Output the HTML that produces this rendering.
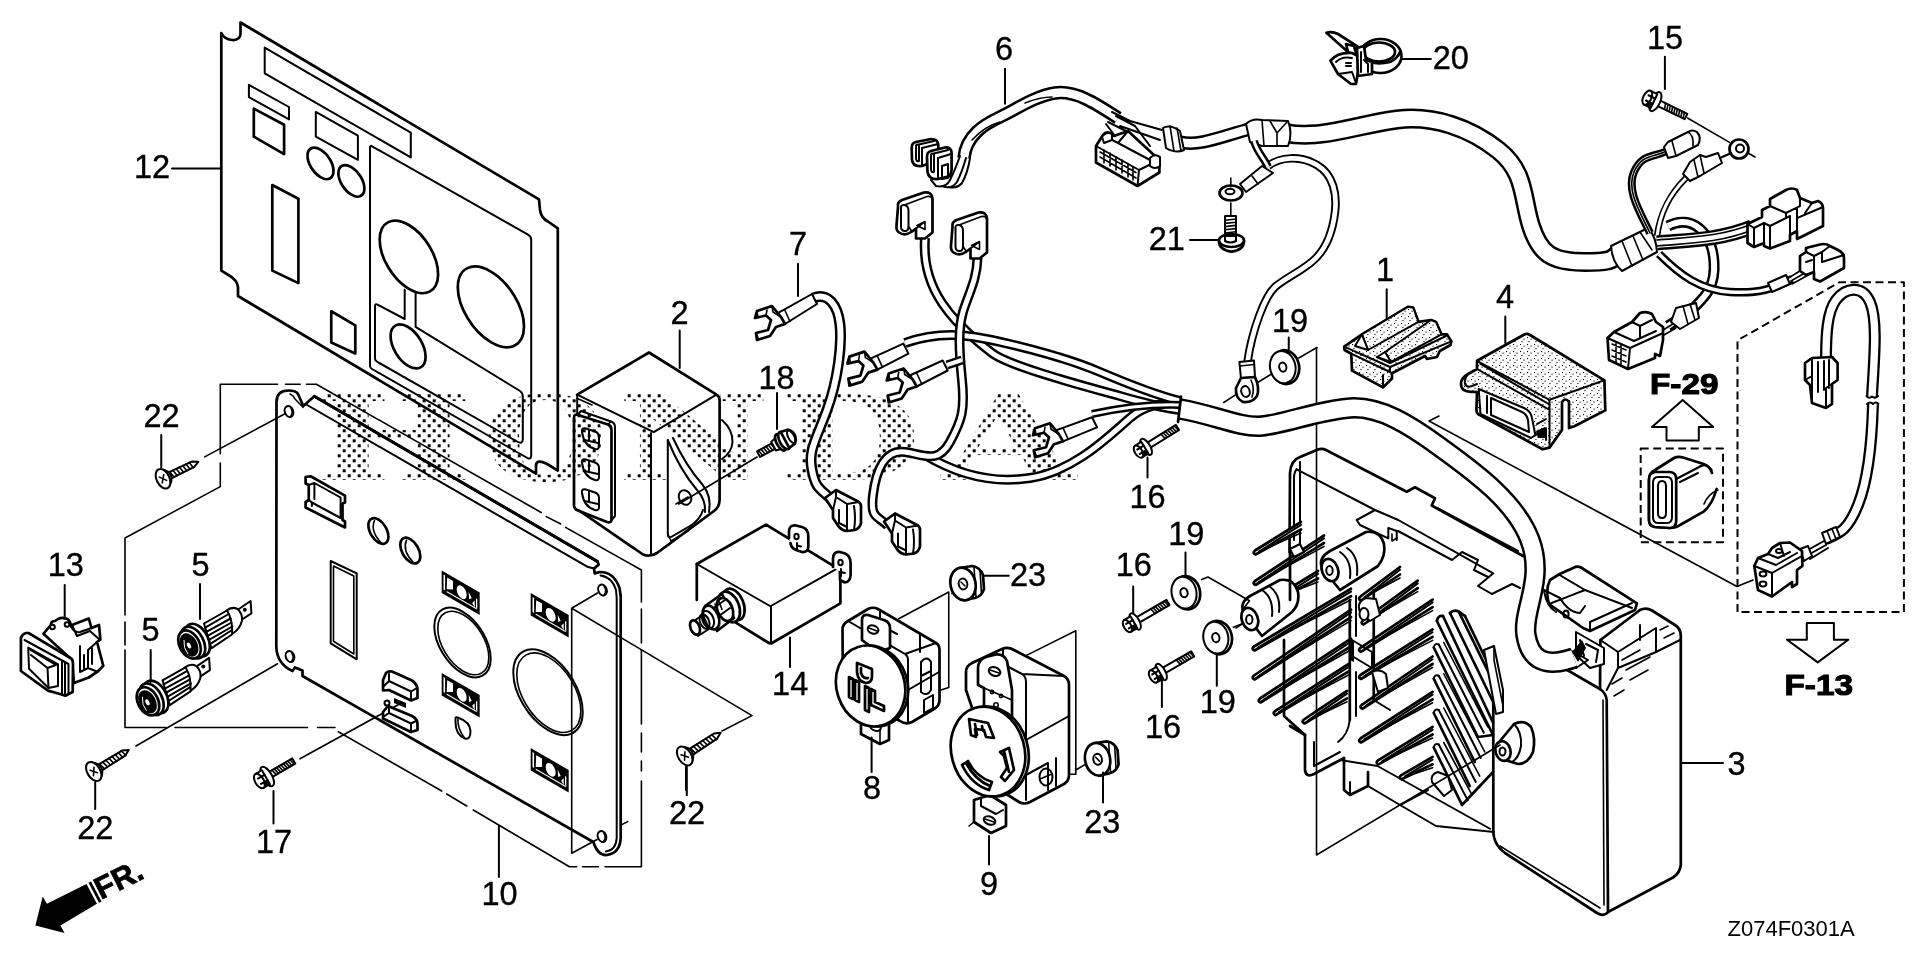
<!DOCTYPE html>
<html><head><meta charset="utf-8"><title>Z074F0301A</title>
<style>
html,body{margin:0;padding:0;background:#fff}
svg{display:block}
text{font-family:"Liberation Sans",sans-serif;fill:#000}
.l{font-size:32.5px;stroke:#000;stroke-width:0.35px}
.o{fill:none;stroke:#000;stroke-width:2.7;stroke-linejoin:round;stroke-linecap:round}
.m{fill:none;stroke:#000;stroke-width:2.0;stroke-linejoin:round;stroke-linecap:round}
.t{fill:none;stroke:#000;stroke-width:1.6;stroke-linejoin:round;stroke-linecap:round}
.w{fill:#fff}
.k{fill:#000}
</style></head><body>
<svg width="1920" height="960" viewBox="0 0 1920 960">
<rect width="1920" height="960" fill="#fff"/>
<defs><filter id="gs" x="0" y="0" width="1920" height="960" filterUnits="userSpaceOnUse" color-interpolation-filters="sRGB"><feColorMatrix type="saturate" values="0"/></filter></defs>
<g filter="url(#gs)">
<defs><pattern id="dots" x="317.7" y="394.3" width="10" height="10" patternUnits="userSpaceOnUse">
<rect x="0" y="0" width="3" height="3" fill="#000"/><rect x="5" y="5" width="3" height="3" fill="#000"/></pattern></defs>
<g id="wm" fill="url(#dots)" style="font-weight:bold;font-size:117px">
<text x="313" y="479.5" textLength="160" lengthAdjust="spacingAndGlyphs" style="fill:url(#dots);font-family:'DejaVu Serif','Liberation Serif',serif">H</text>
<text x="483" y="479.5" textLength="125" lengthAdjust="spacingAndGlyphs" style="fill:url(#dots);font-family:'DejaVu Serif','Liberation Serif',serif">O</text>
<text x="617" y="479.5" textLength="153" lengthAdjust="spacingAndGlyphs" style="fill:url(#dots);font-family:'DejaVu Serif','Liberation Serif',serif">N</text>
<text x="779" y="479.5" textLength="142" lengthAdjust="spacingAndGlyphs" style="fill:url(#dots);font-family:'DejaVu Serif','Liberation Serif',serif">D</text>
<text x="942" y="479.5" textLength="134" lengthAdjust="spacingAndGlyphs" style="fill:url(#dots);font-family:'DejaVu Serif','Liberation Serif',serif">A</text>
</g>
<g id="p12">
<path class="o" d="M221.3,33 Q224,39 232,40 Q240,40.5 240.5,34 L240.5,22.5 L539,199.4 L540,210 Q541,218 548,221.5 L557.8,228.4 L557.8,470.6 L548,464.5 Q537,458.5 536,465 L536,473.7 L238,296 L238,287 Q237,280 230,276 L221.3,270.6 Z"/>
<path class="m" d="M370,147.6 Q370,144.6 372.5,146.6 L528,234.7 Q531.2,236.5 531.2,240 L531.2,455 Q531.2,460.5 526.5,457.5 L372,369 Q370,367.8 370,366 Z"/>
<path class="m" d="M404.7,289.4 L404.7,319 L377.5,304.7 Q375,303.4 375,306 L375,358.5 Q375,360.5 377,361.7 L517,441.5 Q522.8,444.8 522.8,439 L522.8,396.5 Q522.8,392.8 520,391 L415.6,326.9 L415.6,292.5"/>
<ellipse class="o" transform="matrix(1 0.59 0 1 408.9 256.9)" rx="29.2" ry="31.9" vector-effect="non-scaling-stroke"/>
<ellipse class="o" transform="matrix(1 0.59 0 1 490.9 306.9)" rx="33.1" ry="35.3" vector-effect="non-scaling-stroke"/>
<ellipse class="o" transform="matrix(1 0.59 0 1 408.1 346.4)" rx="17.5" ry="19.4" vector-effect="non-scaling-stroke"/>
<ellipse class="o" transform="matrix(1 0.59 0 1 320.5 163.4)" rx="13" ry="13.8" vector-effect="non-scaling-stroke"/>
<ellipse class="o" transform="matrix(1 0.59 0 1 351.4 180.9)" rx="13" ry="13.8" vector-effect="non-scaling-stroke"/>
<path class="m" d="M264.7,47.6 L410.8,132.7 L410.8,157.4 L264.7,73.3 Z"/>
<path class="m" d="M248.9,84.8 L289,107 L289,119.4 L248.9,97.1 Z"/>
<path class="o" d="M253.8,108.6 L284.1,124.8 L284.1,154.1 L253.8,136.7 Z"/>
<path class="m" d="M315.8,111.9 L357.9,135.7 L357.9,159.8 L315.8,136.7 Z"/>
<path class="o" d="M272.3,185 L298.4,198.75 L298.4,283.1 L272.3,270.6 Z"/>
<path class="o" d="M331.25,311.25 L355.3,325.3 L355.3,353.4 L331.25,342.5 Z"/>

</g>

<g id="boxes" class="t">
<path d="M220.3,384.3 H277.5 M285.6,384.3 H300.2 M306.5,384.3 H316.4 L541.2,512.5 M546.3,516.6 L560.8,524 M565.6,527.4 L641.4,570 V602 M641.4,609 V643 M641.4,650 V724 M641.4,733 V752 M641.4,761 V771 M641.4,781 V866.7 H605 M598.5,866.7 H582.5 M576.7,866.7 H569.4 L473.3,810 M466.7,806 L446.7,794 M441.7,791 L338.3,731.7 M335,727.5 H317.5 M307.5,727.5 H175 M166,727.5 H125 V650 M125,645 V622 M125,615 V538 L220.3,486.6 V463 M220.3,453.7 V384.3"/>
<path d="M571.7,608.3 V853.3 L597,839.5 M571.7,608.3 L597.5,593 M571.7,608.3 L752,715.6 L722,731"/>
<path d="M204.7,456.9 L284.5,414 M277.5,663.75 L136,746 M300,758.75 L400,703.75"/>
</g>
<g id="p10">
<path class="o" d="M276.3,647 L276.5,402 Q276.5,390.5 288.5,390.5 Q296,390.5 298,394 L303.3,406 L314.3,396.3 L597.5,561.5 L598.7,564.6 L594,568.5 L594.7,573.4 L600,572 Q614,572 619.5,588 L620.7,596 L620.7,838 Q620,853 607,855 Q598,856 593.3,842 L302.5,676 L302.5,670.5 L295,667.5 L292.5,671 Q277,664 276.3,647 Z"/>
<path class="o" style="stroke-width:3" d="M314.3,396.3 L597.5,561.5"/>
<path class="t" d="M290,394 Q293,395 295,399 L303,407.3"/>
<path class="m" d="M305.4,404 L587.2,566.7 L594,568.5"/>
<path class="m" d="M600.5,575.5 Q612,577 616,590 L616.7,598 L616.7,838 Q616,850 606,851.5"/>
<ellipse class="m" cx="289" cy="411.5" rx="4.2" ry="5.6" transform="rotate(-20 289 411.5)"/>
<path class="t" d="M290.5,407.5 Q293.5,411.5 291,416.0"/>
<ellipse class="m" cx="290" cy="656.5" rx="4.2" ry="5.6" transform="rotate(-20 290 656.5)"/>
<path class="t" d="M291.5,652.5 Q294.5,656.5 292,661.0"/>
<ellipse class="m" cx="602.5" cy="590" rx="4.2" ry="5.6" transform="rotate(-20 602.5 590)"/>
<path class="t" d="M604.0,586 Q607.0,590 604.5,594.5"/>
<ellipse class="m" cx="602" cy="836.5" rx="4.2" ry="5.6" transform="rotate(-20 602 836.5)"/>
<path class="t" d="M603.5,832.5 Q606.5,836.5 604,841.0"/>
<path class="m" d="M330.7,561 L356.7,573.3 L356.7,659.3 L330.7,643.3 Z"/>
<path class="t" d="M333.5,566 L353.8,576 L353.8,654 L333.5,641.3 Z"/>
<g transform="matrix(1 0.58 0 1 441.7 570.4)"><rect class="k" x="0" y="0" width="38" height="22.5"/><rect class="w" x="1.8" y="3" width="1.6" height="15"/><path class="w" d="M5.5,4 L11.3,4 L11.3,12.5 L5,16 Z"/><ellipse class="w" cx="20" cy="10.2" rx="5" ry="6.2"/><path class="w" d="M27,6 L30,10.5 L27.5,13 Z M30.5,15 L33,11 L33,18 Z M34.3,8 L35.6,8 L35.6,18 L34.3,17 Z"/><rect class="w" x="5" y="17.6" width="30" height="1.3"/></g>
<g transform="matrix(1 0.58 0 1 530.7 593)"><rect class="k" x="0" y="0" width="38" height="22.5"/><rect class="w" x="1.8" y="3" width="1.6" height="15"/><path class="w" d="M5.5,4 L11.3,4 L11.3,12.5 L5,16 Z"/><ellipse class="w" cx="20" cy="10.2" rx="5" ry="6.2"/><path class="w" d="M27,6 L30,10.5 L27.5,13 Z M30.5,15 L33,11 L33,18 Z M34.3,8 L35.6,8 L35.6,18 L34.3,17 Z"/><rect class="w" x="5" y="17.6" width="30" height="1.3"/></g>
<g transform="matrix(1 0.58 0 1 441.7 673)"><rect class="k" x="0" y="0" width="38" height="22.5"/><rect class="w" x="1.8" y="3" width="1.6" height="15"/><path class="w" d="M5.5,4 L11.3,4 L11.3,12.5 L5,16 Z"/><ellipse class="w" cx="20" cy="10.2" rx="5" ry="6.2"/><path class="w" d="M27,6 L30,10.5 L27.5,13 Z M30.5,15 L33,11 L33,18 Z M34.3,8 L35.6,8 L35.6,18 L34.3,17 Z"/><rect class="w" x="5" y="17.6" width="30" height="1.3"/></g>
<g transform="matrix(1 0.58 0 1 530.7 748)"><rect class="k" x="0" y="0" width="38" height="22.5"/><rect class="w" x="1.8" y="3" width="1.6" height="15"/><path class="w" d="M5.5,4 L11.3,4 L11.3,12.5 L5,16 Z"/><ellipse class="w" cx="20" cy="10.2" rx="5" ry="6.2"/><path class="w" d="M27,6 L30,10.5 L27.5,13 Z M30.5,15 L33,11 L33,18 Z M34.3,8 L35.6,8 L35.6,18 L34.3,17 Z"/><rect class="w" x="5" y="17.6" width="30" height="1.3"/></g>
<ellipse class="m" transform="matrix(1 0.57 0 1 462.5 642.5)" rx="28.2" ry="30.9" vector-effect="non-scaling-stroke"/>
<ellipse class="t" transform="matrix(1 0.57 0 1 463.3 643)" rx="25.5" ry="28.2" vector-effect="non-scaling-stroke"/>
<ellipse class="m" transform="matrix(1 0.57 0 1 548 692.2)" rx="34.7" ry="38" vector-effect="non-scaling-stroke"/>
<ellipse class="t" transform="matrix(1 0.57 0 1 548.8 692.7)" rx="32" ry="35.3" vector-effect="non-scaling-stroke"/>
<ellipse class="o" transform="matrix(1 0.57 0 1 378.4 531)" rx="10" ry="11.5" vector-effect="non-scaling-stroke"/>
<ellipse class="o" transform="matrix(1 0.57 0 1 410.3 550.6)" rx="10" ry="11.5" vector-effect="non-scaling-stroke"/>
<path class="t" d="M374.5,520.5 Q370,531 381,542.5"/>
<path class="t" d="M406.5,540 Q402,550.5 413,562"/>
<path class="m" d="M455.5,719 Q455,716 459,718 Q470,722 470.5,731 Q470.5,740 465,738.5 Q455.5,735 455.5,722 Z"/>
<path class="t" d="M458,718.5 Q457,728 464.5,738"/>
</g>
<g id="p2">
<path class="o" d="M577.2,394.7 L649,352.5 L716.5,394.7 Q719.6,396.5 719.6,400 L719.6,500 Q719.4,507 714,511 L657,553 Q650,557.5 643,554.5 L579,510.5"/>
<path class="m" d="M577.2,394.7 L653.75,432.2 L716.5,394.7"/>
<path class="m" d="M651,433 L651,555"/>
<path class="t" d="M577.5,398.5 L592,405"/>
<path class="m" d="M577.2,394.7 L577.2,414"/>
<!-- connector panel -->
<path class="o" d="M574,418 Q574,413.5 578,415 L608,424.5 Q611.5,426 611.5,430 L611.5,519 Q611.5,523.5 607,522 L578,510.5 Q574,509 574,505 Z"/>
<path class="m" d="M578,414.5 L581,411 L611,421.5 Q615,423 615,427 L615,516 L611.5,520"/>
<path class="t" d="M608,424.5 L611,421.5"/>
<g class="m">
<path d="M582,432 Q581,427.5 586,428.5 L595,431.5 Q599,433 599,437 L599,446 Q599,450 595,449 Q584,446 582,432 Z"/>
<path d="M589,430 L589,441 L598,443 M589,441 L584.5,440"/>
<path d="M582,463 Q581,458.5 586,459.5 L595,462.5 Q599,464 599,468 L599,477 Q599,481 595,480 Q584,477 582,463 Z"/>
<path d="M589,461 L589,472 L598,474 M589,472 L584.5,471"/>
<path d="M582,493 Q581,488.5 586,489.5 L595,492.5 Q599,494 599,498 L599,507 Q599,511 595,510 Q584,507 582,493 Z"/>
<path d="M589,491 L589,502 L598,504 M589,502 L584.5,501"/>
</g>
<!-- right face bracket -->
<path class="m" d="M667.8,440 L667.8,534 Q668,539 672,536.5 L690,526 Q700,520 703,510"/>
<path class="m" d="M667.8,440 Q680,470 697,490 Q706,500 705,512"/>
<path class="m" d="M673,438 Q686,466 702,484 Q712,496 709,512"/>
<path class="t" d="M667.8,534 L671,541 L688,531 L690,526"/>
<ellipse class="m" cx="685" cy="497.5" rx="6" ry="7.5" transform="rotate(-25 685 497.5)"/>
<path class="t" d="M676,504 L688,497"/>
<!-- bulge -->
<path class="m" d="M722,420 Q733,430 732.5,442 Q732,452 722,459"/>
</g>

<g id="p14">
<path class="o" d="M696.8,564 L766,524.6 L837.5,568.3 Q840.4,570 840.4,574 L840.4,603.3 L772,643 Q770.4,644 768,642.5 L735.4,622.3"/>
<path class="m" d="M696.8,564 L770.4,606.25 L837.5,568.3 M771,606.25 V643"/>
<path class="o" d="M696.8,564 V600"/>
<g class="o">
<path style="fill:#fff" d="M789,538 L789,532 Q789,524.5 796,525.5 L802,527 Q808.3,529 808.3,536 L808.3,547 Q808,552.5 802,552 L796,550 Q791,548 790.5,543"/>
<ellipse class="m" cx="796.5" cy="536.5" rx="2.2" ry="2.8"/>
<path class="m" d="M797,543 L797,549 M797,545.5 L801,546.5"/>
<path style="fill:#fff" d="M833,567 L833,559 Q833,551 840,552 L845,553.5 Q850.6,556 850.6,563 L850.6,575 Q850,582 845,582.5 L840,580 L840,572"/>
<ellipse class="m" cx="840.5" cy="562.5" rx="2.2" ry="2.8"/>
<path class="m" d="M841,569 L841,576 M841,572 L845,573"/>
</g>
<g class="o" style="fill:#fff">
<ellipse cx="733.5" cy="604.5" rx="10" ry="16.5" transform="rotate(-22 733.5 604.5)"/>
<ellipse cx="729" cy="607" rx="10" ry="16" transform="rotate(-22 729 607)"/>
<path d="M705,606 L722,594 L734,618 L717,631 Z"/>
<ellipse cx="725" cy="609.5" rx="7.5" ry="12" transform="rotate(-22 725 609.5)"/>
<path class="m" d="M708,612 L725,600 M712,621 L730,608"/>
<ellipse cx="711" cy="617.5" rx="7.5" ry="12.5" transform="rotate(-22 711 617.5)"/>
<ellipse class="m" cx="708" cy="619.5" rx="5.5" ry="9" transform="rotate(-22 708 619.5)"/>
<path class="m" d="M692,622 L703,615 L709,629 L698,636 Z"/>
<ellipse class="m" cx="704.5" cy="621.5" rx="4.5" ry="7.5" transform="rotate(-22 704.5 621.5)"/>
<ellipse cx="695" cy="627.5" rx="4.5" ry="7.5" transform="rotate(-22 695 627.5)"/>
</g>
<path class="t" d="M715,604 L718,612 M719,601.5 L722,609.5"/>
<path class="m" d="M790,637.5 V667"/>
</g>
<g id="p8">
<!-- body -->
<path class="o" style="fill:#fff" d="M842.5,631 Q842,624 848,621 L868,609 Q873,606.5 878,609 L936,643 Q939.5,645 939.5,650 L939.5,700 Q939.5,706 934,709 L912,722 Q906,725 900,721 L843,690 Z"/>
<path class="m" d="M848,621 L905,654 Q908,656 908,660 L908,722 M905,654 L936,643 M880,610 L880,625 L897,634 M920,634 L920,652 M908,690 L939,672"/>
<!-- top tab -->
<path class="o" style="fill:#fff" d="M862,640 L862,620 Q862,614 868,615 L884,620 Q890,622 890,628 L890,648 L878,652 Z"/>
<ellipse class="m" cx="873" cy="629.5" rx="5.5" ry="4" transform="rotate(20 873 629.5)"/>
<path class="t" d="M869,628 L877,631"/>
<!-- side screws -->
<path class="m" d="M921,662 Q927,655 931,662 L931,690 Q927,697 921,692 Z M921,676 L931,671 M924,700 L933,695 L933,708 L924,713 Z"/>
<!-- bottom tab -->
<path class="o" style="fill:#fff" d="M861,718 L861,734 L880,744 L889,740 L889,722 L875,714 Z"/>
<ellipse class="m" cx="875.5" cy="727" rx="5.5" ry="3.6" transform="rotate(20 875.5 727)"/>
<path class="t" d="M880,744 L880,730"/>
<!-- face -->
<ellipse class="o" style="fill:#fff" cx="873.5" cy="686" rx="34" ry="41" transform="rotate(-18 873.5 686)"/>
<ellipse class="o" style="fill:#fff" cx="870.6" cy="686" rx="34" ry="41" transform="rotate(-18 870.6 686)"/>
<g class="o">
<path d="M857,663 L857,672 Q858,682 866,683 Q872,683 872,676 L872,669 Z M861,668 L861,673 Q863,679 868,678"/>
<path d="M849,677 L853,679 L853,699 L849,697 Z M855,680 L859,682 L859,702 L855,700 Z"/>
<path d="M865,686 L869,688 L869,712 L865,710 Z M871,689 L875,691 L875,702 L884,706 L884,711 L871,705 Z"/>
</g>
<path class="m" d="M871.6,737.5 V772"/>
<path class="t" d="M898.75,618.75 L948.75,592 V687.5 L939.4,690.6 M951.9,593.6 L957,590"/>
</g>
<g id="p9">
<!-- body -->
<path class="o" style="fill:#fff" d="M966,690 L966,672 Q966,666 972,663 L1002,649 Q1008,646.5 1014,650 L1064,676 Q1069,679 1069,685 L1069,775 Q1069,781 1064,784 L1030,802 Q1024,805 1019,802 L1000,790 Z"/>
<path class="m" d="M1003,649 L1003,664 L1022,674 Q1026,676.5 1026,682 L1026,800 M1022,674 L1064,676 M1026,740 L1069,716 M1026,775 L1048,763 L1048,790 M1056,758 L1056,786"/>
<!-- top tab -->
<path class="o" style="fill:#fff" d="M978,685 L978,668 Q978,660 986,657 L996,654.5 Q1004,654 1007,661 L1012,690 L1012,718 L984,706 L984,688 Z"/>
<ellipse class="m" cx="994.5" cy="671.5" rx="6" ry="4.2" transform="rotate(20 994.5 671.5)"/>
<path class="t" d="M990,670 L999,673 M984,688 L1012,700"/>
<circle class="t" cx="992" cy="692" r="1.6"/><circle class="t" cx="1001" cy="696" r="1.6"/><circle class="t" cx="996" cy="705" r="2.2"/>
<!-- side screw -->
<ellipse class="m" cx="1046" cy="777" rx="6.5" ry="8.5"/><path class="t" d="M1040,779 L1052,774"/>
<!-- bottom tab -->
<path class="o" style="fill:#fff" d="M974,800 L974,822 L991,833 L1006,826 L1006,805 L990,795 Z"/>
<path class="m" d="M981,798 L981,806 L996,814 L1003,810"/>
<ellipse class="m" cx="989.5" cy="820.5" rx="6" ry="4" transform="rotate(20 989.5 820.5)"/>
<path class="t" d="M985,819 L994,822 M974,822 L969,826"/>
<!-- face -->
<ellipse class="o" style="fill:#fff" cx="991.5" cy="751.5" rx="36.5" ry="45.5" transform="rotate(-16 991.5 751.5)"/>
<ellipse class="o" style="fill:#fff" cx="988" cy="751.5" rx="36.5" ry="45.5" transform="rotate(-16 988 751.5)"/>
<g class="o">
<path d="M969,719 L988,723 L994,738 L986,737 L984,730 L975,729 L976,737 L971,735 Z M975,724 L977,735 M982,726 L983,731"/>
<path d="M1000,752 L1009,748 L1014,770 L1005,781 L1001,777 L1007,768 L1004,756 Z M1004,751 L1009,772"/>
<path d="M962,765 L968,761 Q976,777 992,782 L989,790 Q972,785 962,765 Z M966,763 Q975,780 990,786"/>
</g>
<path class="m" d="M989,836 V864.6"/>
<path class="t" d="M1026,655.6 L1075.8,630.8 V774.3 L1068.75,774.3 M1075.8,770 L1086.5,763.6"/>
</g>

<g id="p3">
<path class="o" d="M1289.5,552 L1290,473 Q1291,460 1300,457 L1318,449.5 Q1322,448 1326,450 L1406.7,491.7 L1415,487.3 L1435,498.3 L1431.7,505.5 L1523,556" />
<path class="m" d="M1296.7,469.3 L1375,510 L1356.7,520 L1360,525 L1388.3,538.3 L1388.3,528 L1396.7,531 L1396.7,540 M1375,510 L1398.3,520 L1493.3,573.3 L1478,586 L1492,594 L1512,584 L1520,588" />
<path class="m" d="M1300,462 L1300,548 M1296.7,469.3 Q1294,472 1294,478 L1294,540" />
<path class="t" d="M1392,534 L1392,541 L1397,538" />
<path class="m" d="M1437,508 L1518,551 M1398,531 L1452,560 L1462,552 L1478,560 L1474,570 L1488,577" />
<path class="o" style="fill:#fff" d="M1558.75,574.5 L1575.4,566.9 Q1578,566 1581,567.5 L1636.9,603.3 L1635,610 L1590,631 L1583,628 L1549,604 Q1545,590 1550,580 Z"/>
<path class="m" d="M1558.75,574.5 L1585,590 L1632,608 M1585,590 L1549,604 M1544,590 L1560,598 Q1568,612 1580,613 L1585,606 M1544,590 Q1546,606 1556,612" />
<ellipse class="m" cx="1566" cy="614" rx="2.6" ry="3.6"/>
<path class="m" d="M1590,631 L1590,622 L1632,603" />
<path class="o" style="fill:#fff" d="M1600.4,640 L1640,610 Q1646,607 1652,610.5 L1675,625 Q1680.8,628.5 1680.8,636 L1680.8,865 Q1680,873 1673,877.5 L1608,912 L1606.7,700 Q1606,693 1600,689 Z"/>
<path class="m" d="M1600.4,640 L1618,652 L1618,668 L1606.7,690 M1618,652 L1656,628 L1656,652 L1618,668 M1640,625 L1640,640 M1656,652 L1680,640" />
<path class="t" d="M1622,660 L1640,650 M1626,670 L1650,657 M1630,680 L1648,670 M1660,630 L1668,626 M1664,638 L1674,633 M1612,684 L1622,678 M1614,696 L1624,690" />
<path class="m" style="fill:#fff" d="M1576,632 L1590,640 L1604,648 L1604,664 L1590,668 L1576,655 Z"/>
<path class="m" d="M1580,640 L1584,656 M1586,644 L1598,650 L1596,662 M1570,650 L1588,660 L1576,668 Z" />
<path class="k" style="fill:#000" d="M1572,652 L1582,640 L1586,648 L1578,662 Z"/>
<path class="o" d="M1493.3,668 L1493.3,832 Q1494,845 1505,853 L1597,913 Q1604,917 1608,912" />
<path class="o" d="M1567,670 L1600,689" />
<path class="t" d="M1603,700 L1604,905 M1500,846 L1600,908" />
<path class="o" style="fill:#fff" d="M1500,741 L1514,724 Q1524,719 1531,727 Q1536,738 1533,752 Q1528,764 1518,764 L1505,760 Z"/>
<path class="m" d="M1514,724 Q1522,732 1521,746 Q1519,758 1512,762" />
<ellipse class="o" style="fill:#fff" cx="1503" cy="751" rx="7.5" ry="10" transform="rotate(-15 1503 751)"/><ellipse class="m" cx="1502.5" cy="751.5" rx="3" ry="4"/>
<path class="o" d="M1436.9,621 L1493,735" />
<path class="o" d="M1443,616 L1493,722.5" />
<path class="o" d="M1450,613 L1498,712" />
<path class="o" d="M1458.75,611.6 L1502,700" />
<path class="o" d="M1465,616 L1502.5,694" />
<path class="o" d="M1436.9,621 Q1438,615 1443,616 M1450,613 Q1454,609 1458.75,611.6 L1465,616" />
<path class="o" d="M1433.75,647.5 L1477.75,736.8199999999999" />
<path class="m" d="M1438.75,644.5 L1483.75,732.8199999999999" />
<path class="t" d="M1443.75,642.5 L1487.75,726.8199999999999" />
<path class="m" d="M1433.75,647.5 Q1434.75,642.5 1438.75,644.5" />
<path class="o" d="M1433.75,678.75 L1474.75,761.98" />
<path class="m" d="M1438.75,675.75 L1480.75,757.98" />
<path class="t" d="M1443.75,673.75 L1484.75,751.98" />
<path class="m" d="M1433.75,678.75 Q1434.75,673.75 1438.75,675.75" />
<path class="o" d="M1433.75,713 L1469.75,786.08" />
<path class="m" d="M1438.75,710 L1475.75,782.08" />
<path class="t" d="M1443.75,708 L1479.75,776.08" />
<path class="m" d="M1433.75,713 Q1434.75,708 1438.75,710" />
<path class="o" d="M1433.75,747.5 L1461.75,804.34" />
<path class="m" d="M1438.75,744.5 L1467.75,800.34" />
<path class="t" d="M1443.75,742.5 L1471.75,794.34" />
<path class="m" d="M1433.75,747.5 Q1434.75,742.5 1438.75,744.5" />
<path class="o" d="M1462,805 L1493,772 M1478,737 L1493,735" />
<path class="m" d="M1493,735 L1493,772 M1502,700 L1502.5,712" />
<path class="m" style="fill:#fff" d="M1484,650 L1494,646 L1503,690 L1503,712 L1496,714 Z"/>
<path class="t" d="M1494,646 L1494,660 L1503,706" />
<path class="m" style="fill:#fff" d="M1432,782 Q1430,774 1438,772 L1448,776 L1452,790 L1444,796 Z"/>
<path class="m" d="M1377.5,766 L1490,828.75 M1340,760 L1377.5,766" />
<path class="o" style="fill:#fff" d="M1400,567 L1360.4,596.5 Q1357.4,599 1360.9,600.5 L1400,574.5"/>
<path class="m" d="M1364.4,597.5 L1400,569.8" />
<path class="t" d="M1371.5800000000002,593.2 L1400,578.0" />
<path class="o" style="fill:#fff" d="M1417.7,580.6 L1363,620.5 Q1360,623 1363.5,624.5 L1417.7,588.1"/>
<path class="m" d="M1367,621.5 L1417.7,583.4" />
<path class="t" d="M1378.71,614.08 L1417.7,591.6" />
<path class="o" style="fill:#fff" d="M1432.6,599.6 L1360.4,647.9 Q1357.4,650.4 1360.9,651.9 L1432.6,607.1"/>
<path class="m" d="M1364.4,648.9 L1432.6,602.4" />
<path class="t" d="M1381.3600000000001,638.96 L1432.6,610.6" />
<path class="o" style="fill:#fff" d="M1432.6,629.4 L1360.4,675.0 Q1357.4,677.5 1360.9,679.0 L1432.6,636.9"/>
<path class="m" d="M1364.4,676.0 L1432.6,632.1999999999999" />
<path class="t" d="M1381.3600000000001,666.87 L1432.6,640.4" />
<path class="o" style="fill:#fff" d="M1432.6,656.5 L1361.8,704.8 Q1358.8,707.3 1362.3,708.8 L1432.6,664.0"/>
<path class="m" d="M1365.8,705.8 L1432.6,659.3" />
<path class="t" d="M1382.34,695.86 L1432.6,667.5" />
<path class="o" style="fill:#fff" d="M1432.6,691.8 L1360.4,738.5 Q1357.4,741 1360.9,742.5 L1432.6,699.3"/>
<path class="m" d="M1364.4,739.5 L1432.6,694.5999999999999" />
<path class="t" d="M1381.3600000000001,730.0400000000001 L1432.6,702.8" />
<path class="o" style="fill:#fff" d="M1432.6,727 L1378,760.4 Q1375,762.9 1378.5,764.4 L1432.6,734.5"/>
<path class="m" d="M1382,761.4 L1432.6,729.8" />
<path class="t" d="M1393.68,755.9300000000001 L1432.6,738.0" />
<path class="o" style="fill:#fff" d="M1432.6,756.8 L1401,775.3 Q1398,777.8 1401.5,779.3 L1432.6,764.3"/>
<path class="m" d="M1405,776.3 L1432.6,759.5999999999999" />
<path class="t" d="M1409.78,775.3 L1432.6,767.8" />
<path class="o" style="fill:#fff" d="M1301,522 L1255,550.5 Q1252,553 1255.5,554.5 L1301,529.5"/>
<path class="m" d="M1259,551.5 L1301,524.8" />
<path class="t" d="M1268.1,547.5 L1301,533.0" />
<path class="o" style="fill:#fff" d="M1324,535.5 L1255,581.0 Q1252,583.5 1255.5,585.0 L1324,543.0"/>
<path class="m" d="M1259,582.0 L1324,538.3" />
<path class="t" d="M1275.0,572.9000000000001 L1324,546.5" />
<path class="o" style="fill:#fff" d="M1318,571 L1281,593.5 Q1278,596 1281.5,597.5 L1318,578.5"/>
<path class="m" d="M1285,594.5 L1318,573.8" />
<path class="t" d="M1291.4,592.3000000000001 L1318,582.0" />
<path class="o" style="fill:#fff" d="M1351,588.75 L1254,646.5 Q1251,649 1254.5,650.5 L1351,596.25"/>
<path class="m" d="M1258,647.5 L1351,591.55" />
<path class="t" d="M1282.4,634.725 L1351,599.75" />
<path class="o" style="fill:#fff" d="M1351,609.6 L1254,675.5 Q1251,678 1254.5,679.5 L1351,617.1"/>
<path class="m" d="M1258,676.5 L1351,612.4" />
<path class="t" d="M1282.4,661.2800000000001 L1351,620.6" />
<path class="o" style="fill:#fff" d="M1351,638.75 L1260,698.5 Q1257,701 1260.5,702.5 L1351,646.25"/>
<path class="m" d="M1264,699.5 L1351,641.55" />
<path class="t" d="M1286.6,686.125 L1351,649.75" />
<path class="o" style="fill:#fff" d="M1349,663.75 L1275,711.2 Q1272,713.7 1275.5,715.2 L1349,671.25"/>
<path class="m" d="M1279,712.2 L1349,666.55" />
<path class="t" d="M1296.5,702.5150000000001 L1349,674.75" />
<path class="o" style="fill:#fff" d="M1347,690.8 L1304,719.5 Q1301,722 1304.5,723.5 L1347,698.3"/>
<path class="m" d="M1308,720.5 L1347,693.5999999999999" />
<path class="t" d="M1316.2,716.44 L1347,701.8" />
<path class="o" d="M1349.8,600 L1349.8,720 M1373.75,590 L1373.75,700" />
<path class="m" d="M1352,640 L1372,652 L1372,668 L1352,656 Z M1349.8,720 Q1348,735 1338,742 M1373.75,700 L1390,710 M1356,596 L1356,636 M1356,672 L1356,716" />
<path class="k" style="fill:#000" d="M1350,640 L1354,642 L1354,662 L1350,660 Z"/>
<path class="o" style="fill:#fff" d="M1322,568 Q1318,558 1330,551 L1366,532 Q1380,530 1384,544 Q1386,556 1378,566 L1340,590 Z"/>
<path class="m" d="M1340,552 Q1352,560 1350,578 M1347,548 Q1359,556 1357,575" />
<ellipse class="o" style="fill:#fff" cx="1330" cy="570" rx="8" ry="11.5" transform="rotate(-20 1330 570)"/><ellipse class="m" cx="1329.5" cy="570.5" rx="3.2" ry="4.4"/>
<path class="o" style="fill:#fff" d="M1243,611 Q1240,602 1250,596 L1280,580 Q1294,578 1298,592 Q1300,604 1292,612 L1262,636 Z"/>
<path class="m" d="M1262,590 Q1274,598 1272,616 M1269,586 Q1281,594 1279,612" />
<ellipse class="o" style="fill:#fff" cx="1249.8" cy="619" rx="8" ry="11.5" transform="rotate(-20 1249.8 619)"/><ellipse class="m" cx="1249.3" cy="619.5" rx="3.2" ry="4.4"/>
<path class="m" style="fill:#fff" d="M1360,612 Q1356,602 1366,598 L1376,599 L1380,615 L1370,621 Z"/>
<ellipse class="m" style="fill:#fff" cx="1364" cy="614" rx="4.5" ry="6"/>
<path class="m" style="fill:#fff" d="M1372,672 Q1380,668 1386,674 L1388,688 L1378,692 Z"/>
<path class="m" style="fill:#fff" d="M1290,549 L1300,544 L1304,552 L1294,557 Z"/>
<path class="o" d="M1305,735 L1305,770 Q1306,778 1314,774 L1344,758 M1305,735 L1290,726 M1344,758 L1344,790 L1350,795 L1368,786 L1368,772" />
<path class="m" d="M1314,742 L1314,766 L1340,752 M1350,795 L1350,782 M1368,786 L1400,805 L1428,790 M1400,805 L1436,826 L1494,832" />
<path class="o" d="M1290,552 L1290,600 M1284,640 L1284,716 L1305,735" />
<path class="t" d="M1316.5,347.5 V855 L1500,745 M1249.4,600.7 L1244,608 M1242.3,623.75 L1236,628" />
<path class="m" d="M1681.7,763 H1723" />
</g>
<g id="wires">
<path d="M1268,166 C1280,157 1300,155 1317,165 S1337,195 1335,212 S1328,245 1317,257 S1285,278 1275,287 S1252,330 1247.5,362" fill="none" stroke="#000" stroke-width="8.5" stroke-linecap="butt" stroke-linejoin="round"/>
<path d="M1268,166 C1280,157 1300,155 1317,165 S1337,195 1335,212 S1328,245 1317,257 S1285,278 1275,287 S1252,330 1247.5,362" fill="none" stroke="#fff" stroke-width="4.7" stroke-linecap="butt" stroke-linejoin="round"/>
<path d="M1180,409 C1215,415 1240,428 1262,426 S1320,410 1350,408 S1410,425 1440,447 S1515,500 1530,540 S1522,610 1526,635 S1545,668 1574,658" fill="none" stroke="#000" stroke-width="21.5" stroke-linecap="butt" stroke-linejoin="round"/>
<path d="M1180,409 C1215,415 1240,428 1262,426 S1320,410 1350,408 S1410,425 1440,447 S1515,500 1530,540 S1522,610 1526,635 S1545,668 1574,658" fill="none" stroke="#fff" stroke-width="16.5" stroke-linecap="butt" stroke-linejoin="round"/>
<path d="M925,455 C950,470 985,485 1030,478 S1110,435 1130,418 S1165,405 1180,404" fill="none" stroke="#000" stroke-width="10" stroke-linecap="butt" stroke-linejoin="round"/>
<path d="M925,455 C950,470 985,485 1030,478 S1110,435 1130,418 S1165,405 1180,404" fill="none" stroke="#fff" stroke-width="5.0" stroke-linecap="butt" stroke-linejoin="round"/>
<path d="M925,238 C923,265 930,285 942,303 S975,340 992,353 S1080,385 1120,396 S1165,408 1180,410" fill="none" stroke="#000" stroke-width="10" stroke-linecap="butt" stroke-linejoin="round"/>
<path d="M925,238 C923,265 930,285 942,303 S975,340 992,353 S1080,385 1120,396 S1165,408 1180,410" fill="none" stroke="#fff" stroke-width="5.0" stroke-linecap="butt" stroke-linejoin="round"/>
<path d="M905,343 C925,336 950,333 975,337 S1060,355 1100,372 S1160,396 1180,401" fill="none" stroke="#000" stroke-width="10" stroke-linecap="butt" stroke-linejoin="round"/>
<path d="M905,343 C925,336 950,333 975,337 S1060,355 1100,372 S1160,396 1180,401" fill="none" stroke="#fff" stroke-width="5.0" stroke-linecap="butt" stroke-linejoin="round"/>
<path d="M1092,414 C1120,408 1150,404 1180,405" fill="none" stroke="#000" stroke-width="8" stroke-linecap="butt" stroke-linejoin="round"/>
<path d="M1092,414 C1120,408 1150,404 1180,405" fill="none" stroke="#fff" stroke-width="3.0" stroke-linecap="butt" stroke-linejoin="round"/>
<path d="M977.5,258 C977,280 968,295 963,312 S959,350 962,380 S962,420 950,442 S925,455 905,452 S876,470 873,495 S878,515 888,526" fill="none" stroke="#000" stroke-width="10" stroke-linecap="butt" stroke-linejoin="round"/>
<path d="M977.5,258 C977,280 968,295 963,312 S959,350 962,380 S962,420 950,442 S925,455 905,452 S876,470 873,495 S878,515 888,526" fill="none" stroke="#fff" stroke-width="5.0" stroke-linecap="butt" stroke-linejoin="round"/>
<path d="M947,365 L962,360" fill="none" stroke="#000" stroke-width="9" stroke-linecap="butt" stroke-linejoin="round"/>
<path d="M947,365 L962,360" fill="none" stroke="#fff" stroke-width="4.0" stroke-linecap="butt" stroke-linejoin="round"/>
<path d="M813,298 C828,292 838,305 840,325 S838,380 827,410 S808,450 812,470 S820,488 832,500" fill="none" stroke="#000" stroke-width="11" stroke-linecap="butt" stroke-linejoin="round"/>
<path d="M813,298 C828,292 838,305 840,325 S838,380 827,410 S808,450 812,470 S820,488 832,500" fill="none" stroke="#fff" stroke-width="6.0" stroke-linecap="butt" stroke-linejoin="round"/>
<path class="o" d="M1181,396.5 L1178,422" />
<path d="M964,158 C966,135 985,124 1000,117 S1035,96 1055,93 S1095,103 1118,118" fill="none" stroke="#000" stroke-width="13.5" stroke-linecap="butt" stroke-linejoin="round"/>
<path d="M964,158 C966,135 985,124 1000,117 S1035,96 1055,93 S1095,103 1118,118" fill="none" stroke="#fff" stroke-width="8.5" stroke-linecap="butt" stroke-linejoin="round"/>
<path class="t" d="M972,140 Q985,126 1000,122 M1025,103 Q1040,97 1052,97" />
<path class="m" d="M1112,112 L1130,121 L1162,130 M1108,122 L1126,131 L1140,148 M1116,116 L1135,126 L1150,146 M1120,126 L1160,140 M1106,124 L1118,140 L1128,150" />
<path d="M1180,142 C1200,147 1225,135 1250,129" fill="none" stroke="#000" stroke-width="13.5" stroke-linecap="butt" stroke-linejoin="round"/>
<path d="M1180,142 C1200,147 1225,135 1250,129" fill="none" stroke="#fff" stroke-width="8.5" stroke-linecap="butt" stroke-linejoin="round"/>
<path class="m" style="fill:#fff" d="M1163,128 Q1170,124 1180,131 L1184,150 Q1176,154 1166,148 Z"/>
<path class="t" d="M1170,126 L1174,151 M1177,128 L1181,151" />
<path d="M1286,133 C1320,140 1360,124 1397,119.5 S1470,128 1498,150 S1522,198 1531,226 S1552,262 1585,262 S1610,258 1619,254" fill="none" stroke="#000" stroke-width="20" stroke-linecap="butt" stroke-linejoin="round"/>
<path d="M1286,133 C1320,140 1360,124 1397,119.5 S1470,128 1498,150 S1522,198 1531,226 S1552,262 1585,262 S1610,258 1619,254" fill="none" stroke="#fff" stroke-width="15.0" stroke-linecap="butt" stroke-linejoin="round"/>
<path class="m" style="fill:#fff" d="M1246,124 Q1252,118 1262,120 L1288,121 Q1293,133 1288,146 L1262,146 L1250,142 Z"/>
<path class="t" d="M1262,120 L1264,146 M1270,121 L1277,133 L1287,122 M1277,133 L1277,146" />
<path d="M1254,141 C1257,152 1264,158 1268,167" fill="none" stroke="#000" stroke-width="8" stroke-linecap="butt" stroke-linejoin="round"/>
<path d="M1254,141 C1257,152 1264,158 1268,167" fill="none" stroke="#fff" stroke-width="3.0" stroke-linecap="butt" stroke-linejoin="round"/>
<path class="m" style="fill:#fff" d="M1262,166 L1273,173 L1246,192 L1240,184 Z"/>
<path class="t" d="M1252,176 L1258,184" />
<ellipse class="o" style="fill:#fff" cx="1231" cy="193" rx="11.5" ry="7.5"/>
<ellipse class="m" cx="1230" cy="191.5" rx="4.5" ry="2.8"/>
<path class="m" style="fill:#fff" d="M1611,246 L1648,228 Q1656,236 1657,252 L1622,271 Q1612,262 1611,246 Z"/>
<path class="t" d="M1622,241 L1632,266 M1633,236 L1643,260 M1640,232 L1652,250" />
<path d="M1650,233 C1640,212 1626,190 1634,172 S1652,158 1667,151" fill="none" stroke="#000" stroke-width="8" stroke-linecap="butt" stroke-linejoin="round"/>
<path d="M1650,233 C1640,212 1626,190 1634,172 S1652,158 1667,151" fill="none" stroke="#fff" stroke-width="3.0" stroke-linecap="butt" stroke-linejoin="round"/>
<path class="t" d="M1650,233 C1640,212 1626,190 1634,172 S1652,158 1667,151" />
<path class="m" style="fill:#fff" d="M1664,147 L1668,158 L1676,156 L1698,145 Q1702,138 1697,132 Q1692,129 1688,132 L1668,142 Z"/>
<path class="t" d="M1676,156 L1672,141 M1688,132 Q1694,135 1693,146" />
<path d="M1657,236 C1660,214 1668,196 1686,178" fill="none" stroke="#000" stroke-width="6.5" stroke-linecap="butt" stroke-linejoin="round"/>
<path d="M1657,236 C1660,214 1668,196 1686,178" fill="none" stroke="#fff" stroke-width="3.1" stroke-linecap="butt" stroke-linejoin="round"/>
<path class="m" style="fill:#fff" d="M1683,174 L1690,181 L1700,176 L1722,163 L1718,153 L1706,157 L1700,155 L1690,162 Z"/>
<path class="t" d="M1700,155 L1704,173 M1694,160 L1698,177" />
<circle class="o" style="fill:#fff" cx="1739" cy="149" r="9.5"/><circle class="m" cx="1740" cy="148.5" r="4"/>
<path class="m" d="M1720,158 L1731,153" />
<path d="M1668,226 C1692,214 1712,232 1714,262 S1700,300 1690,312 L1668,326" fill="none" stroke="#000" stroke-width="11" stroke-linecap="butt" stroke-linejoin="round"/>
<path d="M1668,226 C1692,214 1712,232 1714,262 S1700,300 1690,312 L1668,326" fill="none" stroke="#fff" stroke-width="6.0" stroke-linecap="butt" stroke-linejoin="round"/>
<path d="M1657,243 C1690,240 1720,240 1752,227" fill="none" stroke="#000" stroke-width="15" stroke-linecap="butt" stroke-linejoin="round"/>
<path d="M1657,243 C1690,240 1720,240 1752,227" fill="none" stroke="#fff" stroke-width="10.0" stroke-linecap="butt" stroke-linejoin="round"/>
<path class="t" d="M1657,240 C1690,237 1720,237 1752,224 M1657,246 C1690,243 1720,243 1752,230" />
<path d="M1659,254 C1680,275 1700,290 1730,292 S1775,288 1792,279" fill="none" stroke="#000" stroke-width="8.5" stroke-linecap="butt" stroke-linejoin="round"/>
<path d="M1659,254 C1680,275 1700,290 1730,292 S1775,288 1792,279" fill="none" stroke="#fff" stroke-width="3.5" stroke-linecap="butt" stroke-linejoin="round"/>
<path class="m" style="fill:#fff" d="M1768,283 L1786,275 L1790,284 L1772,292 Z"/>
<path class="t" d="M1790,277 L1808,266 M1791,281 L1810,270 M1792,284 L1812,273" />
</g>
<g id="terms">
<g transform="translate(846.4 350.6) rotate(0) scale(1)"><path class="m" style="fill:#fff" d="M24,8 L57,-7 L62,3 L31,19 Z"/><path class="t" d="M31,5.5 L36,16.5"/><path class="o" style="fill:#fff" d="M27,12 L18,1 L3,6 L1,13 L12,10.5 L17,15 L14,25 L2,28 L3,35 L16,31 L22,22 L31,19 L27,12 Z"/><path class="t" d="M3,6 L4,12.5 M2,28 L4.5,34 M18,1 L19,7 L27,12 M12,10.5 L13,5"/></g>
<g transform="translate(885.7 367.5) rotate(0) scale(1)"><path class="m" style="fill:#fff" d="M24,8 L57,-7 L62,3 L31,19 Z"/><path class="t" d="M31,5.5 L36,16.5"/><path class="o" style="fill:#fff" d="M27,12 L18,1 L3,6 L1,13 L12,10.5 L17,15 L14,25 L2,28 L3,35 L16,31 L22,22 L31,19 L27,12 Z"/><path class="t" d="M3,6 L4,12.5 M2,28 L4.5,34 M18,1 L19,7 L27,12 M12,10.5 L13,5"/></g>
<g transform="translate(1032 422.3) rotate(0) scale(1)"><path class="m" style="fill:#fff" d="M24,8 L60,-5 L65,5 L31,19 Z"/><path class="t" d="M31,5.5 L36,16.5"/><path class="o" style="fill:#fff" d="M27,12 L18,1 L3,6 L1,13 L12,10.5 L17,15 L14,25 L2,28 L3,35 L16,31 L22,22 L31,19 L27,12 Z"/><path class="t" d="M3,6 L4,12.5 M2,28 L4.5,34 M18,1 L19,7 L27,12 M12,10.5 L13,5"/></g>
<g transform="translate(754 305) rotate(0) scale(1)"><path class="m" style="fill:#fff" d="M24,8 L58,-11 L63,-1 L31,19 Z"/><path class="t" d="M31,5.5 L36,16.5"/><path class="o" style="fill:#fff" d="M27,12 L18,1 L3,6 L1,13 L12,10.5 L17,15 L14,25 L2,28 L3,35 L16,31 L22,22 L31,19 L27,12 Z"/><path class="t" d="M3,6 L4,12.5 M2,28 L4.5,34 M18,1 L19,7 L27,12 M12,10.5 L13,5"/></g>
<g transform="translate(896 192.5) rotate(0) scale(1)"><path class="o" style="fill:#fff" d="M2,14.5 Q1,9.5 6,7.5 L28,0 Q36,-1 36.5,6 L36.5,40 L29,46 L20,46 L20,36 L16,39 Q9,44 3,40 Q0,38 0.5,33 Z"/><path class="m" d="M5,16 Q4.5,12 8.5,12.5 Q12.5,13.5 12.5,18 L12.5,34 Q12.5,39 8.5,38.5 Q5,38 5,34 Z"/><path class="t" d="M8.5,12.5 L31,4 Q36,3 36.5,8 M12.5,34 L16,39 M21,33 L29,29 L29,37 Z M20,36 L29,29"/></g>
<g transform="translate(950.5 212.5) rotate(0) scale(1)"><path class="o" style="fill:#fff" d="M2,14.5 Q1,9.5 6,7.5 L28,0 Q36,-1 36.5,6 L36.5,40 L29,46 L20,46 L20,36 L16,39 Q9,44 3,40 Q0,38 0.5,33 Z"/><path class="m" d="M5,16 Q4.5,12 8.5,12.5 Q12.5,13.5 12.5,18 L12.5,34 Q12.5,39 8.5,38.5 Q5,38 5,34 Z"/><path class="t" d="M8.5,12.5 L31,4 Q36,3 36.5,8 M12.5,34 L16,39 M21,33 L29,29 L29,37 Z M20,36 L29,29"/></g>
<g transform="translate(825 490) rotate(0) scale(1)"><path class="o" style="fill:#fff" d="M0,8 L11,0 L34,12 Q36.5,14 36,18 L36,33 Q35,38 30,40 L22,41 Q18,41 14,37 L8,28 L8,20 Z"/><path class="m" d="M11,0 L11,7 L8,20 M11,7 L22,14 L22,41 M22,14 L34,12 M14,20 L14,33 L22,37 M29,16 Q31,28 29,40"/></g>
<g transform="translate(884 513.5) rotate(0) scale(1)"><path class="o" style="fill:#fff" d="M0,8 L11,0 L34,12 Q36.5,14 36,18 L36,33 Q35,38 30,40 L22,41 Q18,41 14,37 L8,28 L8,20 Z"/><path class="m" d="M11,0 L11,7 L8,20 M11,7 L22,14 L22,41 M22,14 L34,12 M14,20 L14,33 L22,37 M29,16 Q31,28 29,40"/></g>
<path class="m" d="M798,263.75 V296" />
</g>
<g id="conns">
<path class="m" d="M960,156 Q955,170 950,180 Q946,188 936,186 L931,180 M966,158 Q962,172 957,182 Q951,190 942,186 M970,158 Q968,172 962,183 Q957,189 948,187" />
<path class="o" style="fill:#fff" d="M911.7,148 Q911.5,143 916,142 L931,139 Q938,139 938.3,145 L938.3,160 L922,166 Q913,167 912,160 Z"/>
<path class="m" d="M916,147 Q915.5,144 919,144.5 L919,161 Q916,162 916,158 Z M919,144.5 L934,141 M922,166 L922,148 L938,144" />
<path class="o" style="fill:#fff" d="M927,157 Q926.8,152 931,151 L945,147.5 Q951.3,147 951.6,153 L951.6,170 L950,176 L938,179 Q929,180 927.5,172 Z"/>
<path class="m" d="M931,156 Q930.5,153 934,153.5 L934,172 Q931,173 931,169 Z M934,153.5 L948,150 M938,179 L938,158 L951,154 M942,166 L948,164 L948,178 L942,179 Z" />
<path class="o" style="fill:#fff" d="M1096,146 L1103,135 Q1106,131 1110,133 L1114,136 L1128,131 L1159.4,160 L1159.4,172.5 L1137.5,186 L1096,162.5 Z"/>
<path class="m" d="M1096,146 L1139,170 L1137.5,186 M1139,170 L1159.4,160 M1103,135 L1118,143 L1128,131 M1118,143 L1150,160" />
<path class="t" d="M1100,152 L1136,172.5 M1100,157 L1136,178 M1104,150 L1104,163 M1110,153 L1110,166 M1116,157 L1116,170 M1122,160 L1122,173 M1128,164 L1128,177 M1133,167 L1133,180" />
<path class="m" style="fill:#fff" d="M1150,158 Q1155,153 1160,157 L1160,166 Q1155,170 1150,166 Z"/>
<path class="m" style="fill:#fff" d="M1102,137 Q1106,131 1112,134 L1112,140 L1104,143 Z"/>
<path class="o" style="fill:#fff" d="M1747.5,224 L1762,217 L1762,210 L1770,206 L1770,199 L1786,190 Q1792,187 1797,190 L1800,198 L1812,203 L1818,201 Q1823,203 1823,208 L1823,226 L1797,239 L1797,231 L1790,235 L1790,241 L1770,248.5 L1764,246 L1764,243 L1754,247 L1747.5,243 Z"/>
<path class="m" d="M1747.5,224 L1754,228 L1754,247 M1754,228 L1764,223 L1764,243 M1764,223 L1770,226 L1790,216 L1790,235 M1770,226 L1770,248 M1770,206 L1786,213 L1786,218 M1786,213 L1800,206 L1800,198 M1797,208 L1797,231 M1797,218 L1823,207 M1805,213 L1812,203" />
<path class="o" style="fill:#fff" d="M1800,256 L1806,252 L1806,248 L1820,244.5 Q1826,243 1830,246 L1838,250 Q1844,253 1844,258 L1844,268 L1820,281.5 L1814,279 L1814,272 L1806,275 L1800,271 Z"/>
<path class="m" d="M1806,252 L1814,256 L1814,272 M1814,256 L1822,252 L1822,262 L1844,255 M1822,252 L1830,246 M1806,262 L1812,260" />
<path class="o" style="fill:#fff" d="M1607.5,338 L1614,332 L1632,322 L1640,313 Q1646,311 1652,314 L1656,322 L1663,327 L1663,340 L1660,356 L1655,354 L1655,358 L1628,369 L1609,360 Z"/>
<path class="m" d="M1607.5,338 L1630,348 L1628,369 M1630,348 L1663,333 M1614,332 L1634,341 L1656,331 M1632,322 L1640,326 L1652,320 M1640,326 L1640,338" />
<path class="t" d="M1612,344 L1626,350 M1612,350 L1626,356 M1612,356 L1626,362 M1616,343 L1616,362 M1621,345 L1621,364" />
<path class="m" style="fill:#fff" d="M1676,308 L1696,303 L1699,318 L1680,329 L1671,322 Z"/>
<path class="t" d="M1683,306 L1688,324 M1690,304 L1695,320 M1663,330 L1673,324 M1664,335 L1676,328" />
</g>
<defs><pattern id="stip" width="7" height="7" patternUnits="userSpaceOnUse">
<rect width="7" height="7" fill="#fff"/>
<rect x="1" y="1" width="1.1" height="1.1" fill="#000"/><rect x="4.5" y="2.6" width="1.1" height="1.1" fill="#000"/><rect x="2.4" y="5" width="1.1" height="1.1" fill="#000"/>
</pattern></defs>
<g id="p1p4">
<path class="o" style="fill:url(#stip)" d="M1344.2,346.7 L1361.9,334.3 L1407.9,306.8 L1413.2,307.7 L1418.5,321.9 L1431,320 L1436,322 L1441.5,334.3 L1446.9,334.3 L1451.3,341.3 L1450.5,345 L1439.8,351 L1437,357 L1427,359 L1425,356 L1392,373.2 L1392,378.5 L1383,387.4 L1352,370.6 L1351.2,353.7 L1344.5,350 Z"/>
<path class="m" style="fill:url(#stip)" d="M1361.9,334.3 L1407.9,306.8 L1413.2,307.7 L1418.5,321.9 L1368,350 Z"/>
<path class="m" style="fill:#fff" d="M1361.9,334.3 L1368,350 L1355,346 Z"/>
<path class="m" style="fill:url(#stip)" d="M1385,352 L1431,320 L1436,322 L1441.5,334.3 L1391,362 Z"/>
<path class="m" style="fill:#fff" d="M1385,352 L1391,362 L1377,357 Z"/>
<path class="m" d="M1344.2,346.7 L1390,367 L1451.3,341.3 M1351.2,353.7 L1390,372 L1392,373.2 M1390,367 L1390,372 M1383,375 L1383,387.4 M1377,357 L1390,363 L1446,336" />
<path class="o" style="fill:url(#stip)" d="M1477,360.8 L1524.8,334.3 Q1527,333.3 1530,335 L1604.4,380.3 L1605.3,410.4 L1574.3,426.3 L1569,428 L1569,402 Q1565.5,397 1562,402 L1562,430 L1549.5,447.6 L1542.5,449.3 L1478,414 Q1476,412 1476.5,408 L1477,392 L1471.6,391.8 Q1461,392 1461,384 Q1461,378 1468,374 L1477,369 Z"/>
<path class="m" d="M1477,360.8 L1549.5,399.8 L1604.4,380.3 M1549.5,399.8 L1549.5,447.6 M1480.5,364 L1549.5,404.5 M1477,369 L1548,409 M1468,374 Q1464,379 1465,384 Q1467,388 1472,386 L1477,384" />
<path class="m" style="fill:#fff" d="M1478.7,389 L1524,408 Q1531,411 1532,418 L1535.4,435.2 L1531,438 L1480.5,414 Z"/>
<path class="m" d="M1487,396 L1487,413 M1491,398 L1491,415 M1491,398 L1522,412 Q1527,414.5 1528,420 L1529,432 M1491,415 L1529,432 M1535.4,435.2 L1546,428 L1546,440 M1537,424 L1546,419" />
<path class="k" style="fill:#000" d="M1536,431 L1545,427 L1545,438 L1538,438 Z"/>
</g>
<g id="fbox">
<path class="m" d="M1640.7,448.6 H1723 V542.2 H1640.7 Z" stroke-dasharray="8 4.5" style="stroke-linecap:butt"/>
<path class="o" style="fill:#fff" d="M1649,480 Q1648.7,473 1655,470 L1674,458 Q1678,456 1683,457.5 L1703.6,464 Q1710,466 1712,473 M1649,480 L1649,520 Q1649,526 1655,527 L1670,528 Q1676,528 1680,525 L1703.6,511.6 Q1712,505 1716.6,489"/>
<path class="o" style="fill:#fff" d="M1649,480 Q1648.7,473 1655,472 L1670,472 Q1676.2,472.5 1676.2,479 L1676.2,521 Q1676,528 1670,528 L1655,527 Q1649,526 1649,520 Z"/>
<path class="m" d="M1653,483 Q1653,477 1658,477 L1667,477 Q1672,477 1672,483 L1672,517 Q1672,523 1667,523 L1658,523 Q1653,523 1653,517 Z M1658,486 Q1658,481 1662,481 Q1666,481 1666,486 L1666,513 Q1666,518 1662,518 Q1658,518 1658,513 Z" />
<path class="m" d="M1676.2,479 L1703,465 M1680,482 L1698,473" />
<path class="t" d="M1700,466 Q1708,464 1712,470 M1704,504 Q1708,494 1718,490" />
<path class="m" style="fill:#fff" d="M1682.7,400 L1713.3,427 L1698.8,427 L1698.8,440.5 L1666.5,440.5 L1666.5,427 L1652,427 Z"/>
<path class="m" d="M1737.5,612 V340.4 L1839.3,282.3 H1903.9 V612 Z" stroke-dasharray="8 4.5" style="stroke-linecap:butt"/>
<path class="m" style="fill:#fff" d="M1806.8,623 H1833.9 V639.7 H1848.3 L1817.7,662.4 L1787,639.7 H1806.8 Z"/>
<path d="M1826,360 C1826,335 1827,312 1836,300 S1862,284 1870,302 S1874,360 1872,396" fill="none" stroke="#000" stroke-width="12" stroke-linecap="butt" stroke-linejoin="round"/>
<path d="M1826,360 C1826,335 1827,312 1836,300 S1862,284 1870,302 S1874,360 1872,396" fill="none" stroke="#fff" stroke-width="7.4" stroke-linecap="butt" stroke-linejoin="round"/>
<path d="M1873,404 C1872,440 1868,480 1858,505 S1840,533 1826,539" fill="none" stroke="#000" stroke-width="12" stroke-linecap="butt" stroke-linejoin="round"/>
<path d="M1873,404 C1872,440 1868,480 1858,505 S1840,533 1826,539" fill="none" stroke="#fff" stroke-width="7.4" stroke-linecap="butt" stroke-linejoin="round"/>
<path class="m" d="M1866.5,396 Q1869,399 1872,396.5 Q1875,399 1878,396 M1867,404 Q1870,401 1873,404 Q1876,401 1878.5,404" />
<path class="o" style="fill:#fff" d="M1805,363 L1812,358 L1832,357 L1837.6,363 L1837.6,380 L1832,384 L1832,404 L1826,408 L1812,403 L1810,385 L1805,380 Z"/>
<path class="m" d="M1812,358 L1812,403 M1818,362 L1818,392 M1824,361 L1824,390 M1829,360 L1829,388 M1805,380 L1812,376 M1832,384 L1826,388 L1826,408" />
<path class="m" style="fill:#fff" d="M1822,533 L1836,527 L1840,537 L1826,544 Z"/>
<path class="t" d="M1827,531 L1831,541 M1832,529 L1836,539" />
<path class="m" d="M1824,541 L1806,551 M1826,545 L1808,555 M1828,548 L1810,559" />
<path class="m" style="fill:#fff" d="M1800,549 L1808,546 L1812,556 L1804,561 Z"/>
<path class="o" style="fill:#fff" d="M1754.3,566 L1758,558 L1768,554 L1772,548 L1780,543 L1790,542.5 L1802,551 L1802.4,566 L1797,570 L1797,584 L1792,587 L1792,582 L1772,596.5 L1758,590 Z"/>
<path class="m" d="M1754.3,566 L1772,573 L1772,596.5 M1772,573 L1802,556 M1758,558 L1776,565 L1797,553 M1768,554 L1778,558 L1790,552 M1780,543 L1784,556" />
<ellipse class="m" cx="1763" cy="574" rx="3.4" ry="2.4"/><ellipse class="m" cx="1763" cy="584" rx="3.4" ry="2.4"/><ellipse class="m" cx="1779" cy="551" rx="3" ry="2"/>
<path class="t" d="M1439,416 L1429,421 L1737,586.5 L1753,580" />
</g>
<g id="left">
<path class="o" style="fill:#fff" d="M43.5,633.75 L50.8,625 Q51,621 55,621 L58,619 Q62,617 65.4,618.4 Q70,619 71.25,626.5 L72,625 L88.75,618.4 L91.5,628 L99,625 L100.4,639.6 L97,642 L103.3,665.8 L97.5,671.7 L88.75,677.5 L74,683 L72,660 Z"/>
<path class="m" d="M71.25,626.5 Q74,633 80,632 L91.5,628 M72,625 L77,636 L90,631 L100,640 M80,646 L80,672 L88,668 L88,650 L97,642 M84,655 L84,670 M88,668 L97.5,671.7 M92,648 L92,664" />
<circle class="m" style="fill:#fff" cx="52.5" cy="627" r="2.3"/><circle class="m" style="fill:#fff" cx="67" cy="624.5" r="2.3"/>
<path class="o" style="fill:#fff" d="M20.9,640 Q20.5,635 26,633 L28.5,633 L71.25,658.5 Q73,660 73,664 L72.7,692 L65.4,695.7 L60,694 L48,690.6 L20.9,671 Z"/>
<path class="m" d="M24.5,640 L68.5,664 L68.5,693 M28.2,647.6 L58,664.4 L58,686 L48.5,688 L29,668.75 Z M30.5,650 L56,665 L47.5,668 L48.5,688 M47.5,668 L31,655 M62,661.5 L62,694 M65,663 L65,695" />
<path class="m" d="M64.7,585 V618.4" />
<g transform="translate(0 0)"><path class="m" style="fill:#fff" d="M236,611 L250.6,601 L251.4,613.3 L242,619.5 Z"/><circle class="k" cx="244.8" cy="609.7" r="2"/><path class="m" style="fill:#fff" d="M226,611 Q232,606 237.5,609 Q243,614 241.9,621 Q240,629 232,634 Z"/><path class="m" style="fill:#fff" d="M204,623.5 L227,610.5 Q233,620 232,634.5 L211.25,648.3 Z"/><path class="m" d="M205.2,627.6 L227.8,614.5"/><path class="m" d="M206.4,631.8 L230.7,618.5"/><path class="m" d="M207.6,635.9 L231.5,622.5"/><path class="m" d="M208.8,640.0 L232.3,626.5"/><path class="m" d="M210.0,644.2 L231.2,630.5"/><ellipse class="o" style="fill:#fff" cx="197.5" cy="640" rx="10.5" ry="17.5" transform="rotate(-28 197.5 640)"/><ellipse class="o" style="fill:#fff" cx="193" cy="642.5" rx="10.5" ry="17" transform="rotate(-28 193 642.5)"/><ellipse class="o" style="fill:#fff" cx="189.5" cy="644.5" rx="10" ry="15" transform="rotate(-28 189.5 644.5)"/><ellipse class="o" style="fill:#000" cx="189" cy="645" rx="7" ry="11" transform="rotate(-28 189 645)"/><ellipse class="t" style="fill:#fff" cx="189" cy="645.5" rx="2.6" ry="4" transform="rotate(-28 189 645.5)"/><path d="M184,640 Q183,648 188,654" fill="none" stroke="#fff" stroke-width="1"/></g>
<g transform="translate(-41.5 56.8)"><path class="m" style="fill:#fff" d="M236,611 L250.6,601 L251.4,613.3 L242,619.5 Z"/><circle class="k" cx="244.8" cy="609.7" r="2"/><path class="m" style="fill:#fff" d="M226,611 Q232,606 237.5,609 Q243,614 241.9,621 Q240,629 232,634 Z"/><path class="m" style="fill:#fff" d="M204,623.5 L227,610.5 Q233,620 232,634.5 L211.25,648.3 Z"/><path class="m" d="M205.2,627.6 L227.8,614.5"/><path class="m" d="M206.4,631.8 L230.7,618.5"/><path class="m" d="M207.6,635.9 L231.5,622.5"/><path class="m" d="M208.8,640.0 L232.3,626.5"/><path class="m" d="M210.0,644.2 L231.2,630.5"/><ellipse class="o" style="fill:#fff" cx="197.5" cy="640" rx="10.5" ry="17.5" transform="rotate(-28 197.5 640)"/><ellipse class="o" style="fill:#fff" cx="193" cy="642.5" rx="10.5" ry="17" transform="rotate(-28 193 642.5)"/><ellipse class="o" style="fill:#fff" cx="189.5" cy="644.5" rx="10" ry="15" transform="rotate(-28 189.5 644.5)"/><ellipse class="o" style="fill:#000" cx="189" cy="645" rx="7" ry="11" transform="rotate(-28 189 645)"/><ellipse class="t" style="fill:#fff" cx="189" cy="645.5" rx="2.6" ry="4" transform="rotate(-28 189 645.5)"/><path d="M184,640 Q183,648 188,654" fill="none" stroke="#fff" stroke-width="1"/></g>
<path class="m" d="M200,584 V619 M150.7,650 V682" />
<path class="o" d="M305.6,477 L310.6,476.25 L345,495.6 L345,502.5 L342.5,503.5 L342.5,520 L345,521.5 L345,527.5 L305.6,507.5 L305.6,502 L308.75,500 L308.75,485 L305.6,483.5 Z" />
<path class="m" d="M308.75,485 L314.4,483 L340.6,497.5 L340.6,518 L311.9,502.5 L308.75,500 M314.4,483 L314.4,499 M311.9,502.5 L311.9,506" />
<path class="o" style="fill:#fff" d="M383,680 L386,673 Q388,671 392,671.5 L412,680.5 Q417.5,684 417.5,690 L417.5,698 L411,700.5 L389,690 L383,690.5 Z"/>
<path class="m" d="M389,674 L389,681 L411,691.5 L411,700 M389,681 L383,687 M411,691.5 L417,688" />
<path class="k" style="fill:#000" d="M394,698 L406,703 L406,708 L394,703 Z"/>
<path class="o" style="fill:#fff" d="M383,712 L388,706 L412,716 Q417.5,719 417.5,724 L417.5,730 L411,732 L383,718.5 Z"/>
<path class="m" d="M389,707 L389,713 L411,723.5 L411,732 M389,713 L383,717 M411,723.5 L417,720.5" />
<circle class="m" cx="387" cy="703" r="2.5"/>
<path class="k" style="fill:#000" d="M35.4,925.6 L42.7,896.5 L46.9,903.75 L86.5,884 L96.9,903.75 L60.4,925.6 L64.6,932.9 Z"/>
<path class="k" style="fill:#000" d="M88.5,882.8 L91,881.5 L101.5,901.5 L99,902.8 Z"/>
<text transform="translate(101 900) rotate(-26.5)" style="font-weight:bold;font-size:31px;stroke:#000;stroke-width:0.8">FR.</text>
</g>
<g id="hw">
<g transform="translate(163 478.75) rotate(-25.8)"><path class="w" d="M6,-3.4 L33.33551194531475,-3 L39.33551194531475,0 L33.33551194531475,3 L6,3.4 Z"/><path class="m" d="M6,-3.4 L33.33551194531475,-3 L39.33551194531475,0 L33.33551194531475,3 L6,3.4"/><path class="t" d="M9.0,-3.3 L10.6,3.3"/><path class="t" d="M12.6,-3.3 L14.2,3.3"/><path class="t" d="M16.2,-3.3 L17.8,3.3"/><path class="t" d="M19.8,-3.3 L21.400000000000002,3.3"/><path class="t" d="M23.4,-3.3 L25.0,3.3"/><path class="t" d="M27.0,-3.3 L28.6,3.3"/><path class="t" d="M30.6,-3.3 L32.2,3.3"/><path class="w" d="M4,-8.32 Q8,-5.2 8,0 Q8,5.2 4,8.32 Z"/><path class="m" d="M3,-8.84 Q8.5,-5.2 8.5,0 Q8.5,5.2 3,8.84"/><ellipse class="m w" style="fill:#fff" cx="0" cy="0" rx="6.448" ry="10.4"/><path class="t" d="M-2.5,-3 L2.5,3 M-2.5,3.5 L2.5,-3.5"/></g>
<g transform="translate(93.75 771.5) rotate(-31.6)"><path class="w" d="M6,-3.4 L35.07614879708174,-3 L41.07614879708174,0 L35.07614879708174,3 L6,3.4 Z"/><path class="m" d="M6,-3.4 L35.07614879708174,-3 L41.07614879708174,0 L35.07614879708174,3 L6,3.4"/><path class="t" d="M9.0,-3.3 L10.6,3.3"/><path class="t" d="M12.6,-3.3 L14.2,3.3"/><path class="t" d="M16.2,-3.3 L17.8,3.3"/><path class="t" d="M19.8,-3.3 L21.400000000000002,3.3"/><path class="t" d="M23.4,-3.3 L25.0,3.3"/><path class="t" d="M27.0,-3.3 L28.6,3.3"/><path class="t" d="M30.6,-3.3 L32.2,3.3"/><path class="t" d="M34.2,-3.3 L35.800000000000004,3.3"/><path class="w" d="M4,-8.32 Q8,-5.2 8,0 Q8,5.2 4,8.32 Z"/><path class="m" d="M3,-8.84 Q8.5,-5.2 8.5,0 Q8.5,5.2 3,8.84"/><ellipse class="m w" style="fill:#fff" cx="0" cy="0" rx="6.448" ry="10.4"/><path class="t" d="M-2.5,-3 L2.5,3 M-2.5,3.5 L2.5,-3.5"/></g>
<g transform="translate(684.7 756) rotate(-32.9)"><path class="w" d="M6,-3.4 L36.744005427662024,-3 L42.744005427662024,0 L36.744005427662024,3 L6,3.4 Z"/><path class="m" d="M6,-3.4 L36.744005427662024,-3 L42.744005427662024,0 L36.744005427662024,3 L6,3.4"/><path class="t" d="M9.0,-3.3 L10.6,3.3"/><path class="t" d="M12.6,-3.3 L14.2,3.3"/><path class="t" d="M16.2,-3.3 L17.8,3.3"/><path class="t" d="M19.8,-3.3 L21.400000000000002,3.3"/><path class="t" d="M23.4,-3.3 L25.0,3.3"/><path class="t" d="M27.0,-3.3 L28.6,3.3"/><path class="t" d="M30.6,-3.3 L32.2,3.3"/><path class="t" d="M34.2,-3.3 L35.800000000000004,3.3"/><path class="w" d="M4,-8.32 Q8,-5.2 8,0 Q8,5.2 4,8.32 Z"/><path class="m" d="M3,-8.84 Q8.5,-5.2 8.5,0 Q8.5,5.2 3,8.84"/><ellipse class="m w" style="fill:#fff" cx="0" cy="0" rx="6.448" ry="10.4"/><path class="t" d="M-2.5,-3 L2.5,3 M-2.5,3.5 L2.5,-3.5"/></g>
<g transform="translate(262 779.5) rotate(-30.2)"><path class="w" d="M6,-3 L36.746598482036404,-3 L36.746598482036404,3 L6,3 Z"/><path class="m" d="M6,-3 L36.746598482036404,-3 L36.746598482036404,3 L6,3"/><path class="t" d="M13.349319696407282,-3 L14.749319696407282,3"/><path class="t" d="M15.949319696407281,-3 L17.34931969640728,3"/><path class="t" d="M18.54931969640728,-3 L19.94931969640728,3"/><path class="t" d="M21.149319696407282,-3 L22.54931969640728,3"/><path class="t" d="M23.749319696407284,-3 L25.149319696407282,3"/><path class="t" d="M26.349319696407285,-3 L27.749319696407284,3"/><path class="t" d="M28.949319696407287,-3 L30.349319696407285,3"/><path class="t" d="M31.549319696407288,-3 L32.94931969640729,3"/><path class="t" d="M34.14931969640729,-3 L35.54931969640729,3"/><ellipse style="fill:#fff" class="m" cx="6" cy="0" rx="4.75" ry="10.924999999999999"/><path style="fill:#fff" class="m" d="M4.5,-8.075 L-3,-8.075 L-3,8.075 L4.5,8.075 Z"/><ellipse style="fill:#fff" class="m" cx="-3" cy="0" rx="4.275" ry="8.075"/><path class="m" d="M-3,-2.85 L4.5,-2.85 M-3,3.3249999999999997 L4.5,3.3249999999999997"/><path class="k" d="M-1,3.3249999999999997 L4.5,3.3249999999999997 L4.5,8.075 L-1,8.075 Z"/></g>
<g transform="translate(1141 450) rotate(-31.7)"><path class="w" d="M6,-3 L42.87773314903669,-3 L42.87773314903669,3 L6,3 Z"/><path class="m" d="M6,-3 L42.87773314903669,-3 L42.87773314903669,3 L6,3"/><path class="t" d="M25.294979917066513,-3 L26.69497991706651,3"/><path class="t" d="M27.894979917066514,-3 L29.294979917066513,3"/><path class="t" d="M30.494979917066516,-3 L31.894979917066514,3"/><path class="t" d="M33.09497991706652,-3 L34.494979917066516,3"/><path class="t" d="M35.69497991706652,-3 L37.09497991706652,3"/><path class="t" d="M38.29497991706652,-3 L39.69497991706652,3"/><path class="t" d="M40.89497991706652,-3 L42.29497991706652,3"/><ellipse style="fill:#fff" class="m" cx="6" cy="0" rx="4.0" ry="9.2"/><path style="fill:#fff" class="m" d="M4.5,-6.8 L-3,-6.8 L-3,6.8 L4.5,6.8 Z"/><ellipse style="fill:#fff" class="m" cx="-3" cy="0" rx="3.6" ry="6.8"/><path class="m" d="M-3,-2.4 L4.5,-2.4 M-3,2.8 L4.5,2.8"/><path class="k" d="M-1,2.8 L4.5,2.8 L4.5,6.8 L-1,6.8 Z"/></g>
<g transform="translate(1130 624.5) rotate(-30.1)"><path class="w" d="M6,-3 L43.9089968002003,-3 L43.9089968002003,3 L6,3 Z"/><path class="m" d="M6,-3 L43.9089968002003,-3 L43.9089968002003,3 L6,3"/><path class="t" d="M25.759048560090136,-3 L27.159048560090135,3"/><path class="t" d="M28.359048560090137,-3 L29.759048560090136,3"/><path class="t" d="M30.95904856009014,-3 L32.35904856009014,3"/><path class="t" d="M33.55904856009014,-3 L34.95904856009014,3"/><path class="t" d="M36.15904856009014,-3 L37.55904856009014,3"/><path class="t" d="M38.75904856009014,-3 L40.15904856009014,3"/><path class="t" d="M41.359048560090145,-3 L42.75904856009014,3"/><ellipse style="fill:#fff" class="m" cx="6" cy="0" rx="4.0" ry="9.2"/><path style="fill:#fff" class="m" d="M4.5,-6.8 L-3,-6.8 L-3,6.8 L4.5,6.8 Z"/><ellipse style="fill:#fff" class="m" cx="-3" cy="0" rx="3.6" ry="6.8"/><path class="m" d="M-3,-2.4 L4.5,-2.4 M-3,2.8 L4.5,2.8"/><path class="k" d="M-1,2.8 L4.5,2.8 L4.5,6.8 L-1,6.8 Z"/></g>
<g transform="translate(1156 675) rotate(-29.9)"><path class="w" d="M6,-3 L42.33320209953417,-3 L42.33320209953417,3 L6,3 Z"/><path class="m" d="M6,-3 L42.33320209953417,-3 L42.33320209953417,3 L6,3"/><path class="t" d="M25.049940944790375,-3 L26.449940944790374,3"/><path class="t" d="M27.649940944790377,-3 L29.049940944790375,3"/><path class="t" d="M30.249940944790378,-3 L31.649940944790377,3"/><path class="t" d="M32.849940944790376,-3 L34.249940944790374,3"/><path class="t" d="M35.44994094479038,-3 L36.849940944790376,3"/><path class="t" d="M38.04994094479038,-3 L39.44994094479038,3"/><path class="t" d="M40.64994094479038,-3 L42.04994094479038,3"/><ellipse style="fill:#fff" class="m" cx="6" cy="0" rx="4.0" ry="9.2"/><path style="fill:#fff" class="m" d="M4.5,-6.8 L-3,-6.8 L-3,6.8 L4.5,6.8 Z"/><ellipse style="fill:#fff" class="m" cx="-3" cy="0" rx="3.6" ry="6.8"/><path class="m" d="M-3,-2.4 L4.5,-2.4 M-3,2.8 L4.5,2.8"/><path class="k" d="M-1,2.8 L4.5,2.8 L4.5,6.8 L-1,6.8 Z"/></g>
<g transform="translate(1650 99) rotate(25.9)"><path class="w" d="M6,-3 L40.02811511925087,-3 L40.02811511925087,3 L6,3 Z"/><path class="m" d="M6,-3 L40.02811511925087,-3 L40.02811511925087,3 L6,3"/><path class="t" d="M16.007028779812718,-3 L17.407028779812716,3"/><path class="t" d="M18.60702877981272,-3 L20.007028779812718,3"/><path class="t" d="M21.20702877981272,-3 L22.60702877981272,3"/><path class="t" d="M23.807028779812722,-3 L25.20702877981272,3"/><path class="t" d="M26.407028779812723,-3 L27.807028779812722,3"/><path class="t" d="M29.007028779812725,-3 L30.407028779812723,3"/><path class="t" d="M31.607028779812726,-3 L33.00702877981273,3"/><path class="t" d="M34.207028779812724,-3 L35.60702877981272,3"/><path class="t" d="M36.807028779812725,-3 L38.207028779812724,3"/><ellipse style="fill:#fff" class="m" cx="6" cy="0" rx="4.5" ry="10.35"/><path style="fill:#fff" class="m" d="M4.5,-7.6499999999999995 L-3,-7.6499999999999995 L-3,7.6499999999999995 L4.5,7.6499999999999995 Z"/><ellipse style="fill:#fff" class="m" cx="-3" cy="0" rx="4.05" ry="7.6499999999999995"/><path class="m" d="M-3,-2.6999999999999997 L4.5,-2.6999999999999997 M-3,3.15 L4.5,3.15"/><path class="k" d="M-1,3.15 L4.5,3.15 L4.5,7.6499999999999995 L-1,7.6499999999999995 Z"/></g>
<g transform="translate(1185 592.5) rotate(-12)"><ellipse style="fill:#fff" class="o" cx="1.3" cy="0.5" rx="13.7" ry="16.8"/><ellipse style="fill:#fff" class="m" cx="-1" cy="0" rx="12.399999999999999" ry="16.0"/><ellipse class="m" cx="-1" cy="0" rx="3.6" ry="4.6"/></g>
<g transform="translate(1216.8 637.4) rotate(-12)"><ellipse style="fill:#fff" class="o" cx="1.3" cy="0.5" rx="13.7" ry="16.8"/><ellipse style="fill:#fff" class="m" cx="-1" cy="0" rx="12.399999999999999" ry="16.0"/><ellipse class="m" cx="-1" cy="0" rx="3.6" ry="4.6"/></g>
<g transform="translate(1283.75 366.9) rotate(-12)"><ellipse style="fill:#fff" class="o" cx="1.3" cy="0.5" rx="14" ry="17"/><ellipse style="fill:#fff" class="m" cx="-1" cy="0" rx="12.7" ry="16.2"/><ellipse class="m" cx="-1" cy="0" rx="3.6" ry="4.6"/></g>
<g transform="translate(966 583) scale(1.0)"><path style="fill:#fff" class="o" d="M-6,-15 L6,-17 Q14,-16 17,-8 L18,6 Q16,13 9,15 L-2,17 Z"/><path class="t" d="M8,-16.5 L10,14.5 M14,-13 L15.5,11"/><ellipse style="fill:#fff" class="o" cx="-3" cy="1" rx="12.5" ry="16.5" transform="rotate(-12 -3 1)"/><ellipse class="m" cx="-3" cy="1" rx="4.3" ry="5.5" transform="rotate(-12 -3 1)"/><path class="t" d="M-5,-1 L-1,3"/></g>
<g transform="translate(1100.6 758.3) scale(1.0)"><path style="fill:#fff" class="o" d="M-6,-15 L6,-17 Q14,-16 17,-8 L18,6 Q16,13 9,15 L-2,17 Z"/><path class="t" d="M8,-16.5 L10,14.5 M14,-13 L15.5,11"/><ellipse style="fill:#fff" class="o" cx="-3" cy="1" rx="12.5" ry="16.5" transform="rotate(-12 -3 1)"/><ellipse class="m" cx="-3" cy="1" rx="4.3" ry="5.5" transform="rotate(-12 -3 1)"/><path class="t" d="M-5,-1 L-1,3"/></g>
<path class="m" d="M161.25,435 V467.8 M95.2,781.9 V809 M273.5,791 V823.5 M686,767 V790" />
<path class="m" d="M1147.5,457.5 V477.5 M1133.2,586.6 V613 M1161.9,680.4 V707 M1185.5,552.5 V575 M1216.8,655.6 V685.7" />
<path class="m" d="M983.75,575.75 H1008.75 M1103,772.5 V802.6 M1664.9,56.8 V89" />
<path class="t" d="M1201.6,579.5 L1208,577 L1249.4,600.7 M1233.4,627.3 L1242.3,623.75" />
<path class="t" d="M1687.5,118 L1729.5,142.4 M1748,153 L1755,157" />
</g>
<g id="extra">
<path class="m" d="M172,168.5 H221 M679.7,330.6 V368 M777,393 V429 M498.9,826 V877 M1005,68.75 V103.75 M1190,240 H1218.3 M1401.2,59 H1430.9 M1386.7,289.3 V319 M1505.3,316.6 V343 M1288.75,337.5 V352.5 M686.8,767 V795.3" />
<path class="t" d="M757,457 L678.75,504 M1256.9,383 L1271.9,373.75 M1236.25,394.4 L1223.75,402.5 M1298.75,358 L1316.9,347.5 M620.4,825.2 L627.7,821.6" />
<path class="t" d="M1230.8,178 V186.7 M1230.8,203 V215" />
<g transform="translate(785 440) rotate(152)"><path class="m" style="fill:#fff" d="M6,-3.2 L30,-3.2 L30,3.2 L6,3.2 Z"/><path class="t" d="M13.0,-3.2 L14.2,3.2"/><path class="t" d="M15.8,-3.2 L17.0,3.2"/><path class="t" d="M18.6,-3.2 L19.8,3.2"/><path class="t" d="M21.4,-3.2 L22.599999999999998,3.2"/><path class="t" d="M24.2,-3.2 L25.4,3.2"/><path class="t" d="M27.0,-3.2 L28.2,3.2"/><path class="m" style="fill:#fff" d="M8,-6 L13,-5 L13,5 L8,6 Z"/><ellipse class="o" style="fill:#fff" cx="5" cy="0" rx="4" ry="9"/><ellipse class="o" style="fill:#fff" cx="1" cy="0" rx="4.5" ry="9.5"/><path class="o" style="fill:#fff" d="M0,-9 L-7,-8 Q-11,-4 -11,0 Q-11,5 -7,8 L0,9 Z"/><ellipse class="m" cx="-7" cy="0" rx="3" ry="7"/></g>
<path class="m" style="fill:#fff" d="M1225,216 H1236 V238 H1225 Z"/>
<path class="t" d="M1225,220.2 L1236,219.0" />
<path class="t" d="M1225,223.39999999999998 L1236,222.2" />
<path class="t" d="M1225,226.6 L1236,225.4" />
<path class="t" d="M1225,229.79999999999998 L1236,228.6" />
<path class="t" d="M1225,233.0 L1236,231.8" />
<path class="t" d="M1225,236.2 L1236,235.0" />
<path class="o" style="fill:#fff" d="M1219,241 Q1219,250 1231.5,251.7 Q1244,250 1244,241 Z"/>
<ellipse class="o" style="fill:#fff" cx="1231.5" cy="240.5" rx="12.5" ry="6.5"/>
<path class="m" style="fill:#fff" d="M1225,236 H1236 V241 Q1230.5,244 1225,241 Z"/>
<path class="m" style="fill:#fff" d="M1239.4,362 L1254,360.6 L1255,377 L1241,378.75 Z"/>
<path class="t" d="M1240,366 L1254,364.5" />
<path class="o" style="fill:#fff" d="M1241,378 L1255,377 Q1260,388 1257,396 Q1252,403 1243,402 Q1235,398 1236,388 Z"/>
<ellipse class="m" cx="1245.5" cy="391.5" rx="4.2" ry="5.5" transform="rotate(-15 1245.5 391.5)"/>
<path class="t" d="M1251,380 Q1255,388 1252,397" />
<ellipse class="o" style="fill:#fff" cx="1380.5" cy="56" rx="21" ry="17"/>
<ellipse class="o" style="fill:#fff" cx="1379" cy="52" rx="16" ry="9.5"/>
<path class="o" d="M1364,58 Q1372,66 1390,62 Q1398,58 1400,52" />
<path class="o" style="fill:#fff" d="M1326.4,32.8 Q1332,31 1338,34 L1357.8,46.6 L1357,52 L1348,52 Z"/>
<path class="o" style="fill:#fff" d="M1346,44 L1354,46 L1357,56 L1348,52 Z"/>
<path class="o" style="fill:#fff" d="M1330.4,60.7 Q1338,52 1352,53 L1358,56 L1358,72 L1356,83.8 L1351,84 L1338,74 Z"/>
<path class="m" d="M1336,62 Q1342,56 1352,58 M1338,74 L1352,72 L1356,83 M1346,63 L1351,63 M1346,66 L1351,66" />
<path class="o" style="fill:#fff" d="M1357,48 L1364,46 L1366,60 L1372,62 L1372,74 L1358,76 Z"/>
<path class="m" d="M1361,52 L1361,72 M1364,60 L1368,64 L1368,72" />
</g>
<g id="labels" class="l" opacity="0.999">
<text x="134.0" y="177.8">12</text>
<text x="143.5" y="426.9">22</text>
<text x="47.7" y="576.3">13</text>
<text x="191.6" y="575.6">5</text>
<text x="141.6" y="640.6">5</text>
<text x="77.2" y="839.1">22</text>
<text x="256.0" y="852.6">17</text>
<text x="481.4" y="905.1">10</text>
<text x="669.0" y="823.8">22</text>
<text x="670.5" y="323.6">2</text>
<text x="758.4" y="389.1">18</text>
<text x="789.0" y="254.7">7</text>
<text x="772.1" y="695.3">14</text>
<text x="863.0" y="799.1">8</text>
<text x="980.0" y="895.1">9</text>
<text x="1009.9" y="585.6">23</text>
<text x="1084.2" y="832.6">23</text>
<text x="1129.5" y="507.6">16</text>
<text x="1115.8" y="576.1">16</text>
<text x="1144.9" y="737.6">16</text>
<text x="1168.3" y="545.1">19</text>
<text x="1199.8" y="713.1">19</text>
<text x="1272.0" y="331.6">19</text>
<text x="995.1" y="60.1">6</text>
<text x="1148.7" y="250.2">21</text>
<text x="1432.7" y="68.7">20</text>
<text x="1647.0" y="48.8">15</text>
<text x="1376.0" y="281.3">1</text>
<text x="1496.0" y="307.6">4</text>
<text x="1727.4" y="774.6">3</text>
</g>
<text x="1650" y="393.7" textLength="68.5" lengthAdjust="spacingAndGlyphs" style="font-weight:bold;font-size:29.5px;stroke:#000;stroke-width:1.1">F-29</text>
<text x="1784.5" y="695.2" textLength="68.5" lengthAdjust="spacingAndGlyphs" style="font-weight:bold;font-size:29.5px;stroke:#000;stroke-width:1.1">F-13</text>
<text x="1727.5" y="935.6" style="font-size:22px">Z074F0301A</text>
</g></svg>
</body></html>
